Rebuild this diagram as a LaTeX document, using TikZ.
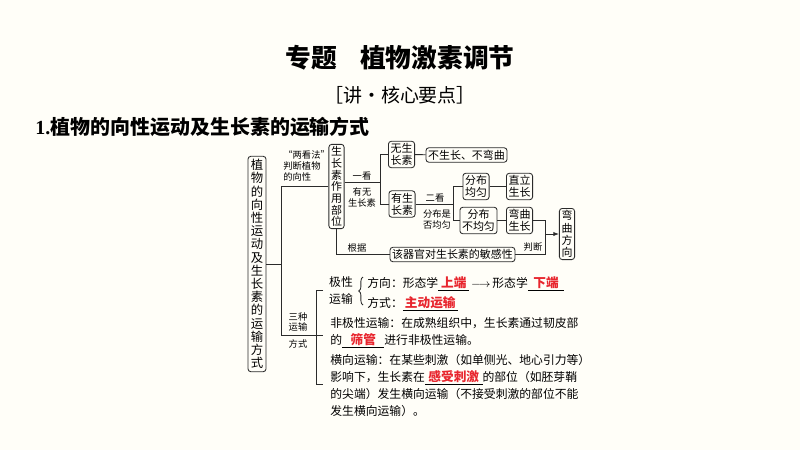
\documentclass[tikz,border=0pt]{standalone}
\usepackage{fontspec}
\setmainfont{Noto Sans CJK SC}
\newfontfamily\numfont{Liberation Serif}
\usetikzlibrary{arrows.meta,decorations.pathreplacing}
\definecolor{paper}{HTML}{FFFEF8}
\definecolor{keyred}{HTML}{E8262E}
\definecolor{ink}{HTML}{2B2B2B}
\newcommand{\fillin}[2]{\underline{\makebox[#1]{\textcolor{keyred}{\fontsize{9}{9}\selectfont\bfseries #2}}}}
\tikzset{
  box/.style={draw=ink, rounded corners=2pt, inner sep=1.5pt, align=center, font=\fontsize{7.8}{8.6}\selectfont},
  vbox/.style={box, font=\fontsize{7.8}{8.3}\selectfont},
  tag/.style={inner sep=0pt, align=center, font=\fontsize{6.6}{7.8}\selectfont},
  para/.style={inner sep=0pt, align=left, anchor=north west, font=\fontsize{8.4}{12.1}\selectfont},
}
\begin{document}
\begin{tikzpicture}[x=0.025cm, y=-0.025cm, line width=0.6pt, draw=ink, text=black]
  \fill[paper] (0,0) rectangle (800,450);
  \useasboundingbox (0,0) rectangle (800,450);
  \node[font=\fontsize{18.3}{18}\selectfont\bfseries] (title) at (400,58) {专题\hspace{0.9em}植物激素调节};
  \node[font=\fontsize{13.5}{14}\selectfont] (sub) at (400,95) {［讲・核心要点］};
  \node[anchor=west, inner sep=0pt, font=\fontsize{14.2}{14}\selectfont\bfseries] (head) at (35,127) {{\numfont 1.}植物的向性运动及生长素的运输方式};
  \node[vbox, inner sep=2pt, font=\fontsize{8.8}{9.4}\selectfont] (plant) at (257,264)
    {植\\物\\的\\向\\性\\运\\动\\及\\生\\长\\素\\的\\运\\输\\方\\式};
  \node[vbox] (site) at (336.5,186.5) {生\\长\\素\\作\\用\\部\\位};
  \node[box] (none) at (401.5,154.5) {无生\\长素};
  \node[box] (have) at (402,204) {有生\\长素};
  \node[box] (nogrow) at (466.5,155) {不生长、不弯曲};
  \node[box] (even) at (476,186.5) {分布\\均匀};
  \node[box] (uneven) at (478.5,220.5) {分布\\不均匀};
  \node[box] (upright) at (519.5,186.5) {直立\\生长};
  \node[box] (bend) at (519.5,220.5) {弯曲\\生长};
  \node[vbox, font=\fontsize{7.8}{8.7}\selectfont] (dir) at (567,234) {弯\\曲\\方\\向};
  \node[box] (sens) at (452.5,254.5) {该器官对生长素的敏感性};
  \node[tag, align=left, anchor=north west] (twolook) at (283,150) {“两看法”\\判断植物\\的向性};
  \node[tag] (look1) at (362,176) {一看};
  \node[tag] (hasno) at (362,197) {有无\\生长素};
  \node[tag] (look2) at (435,198) {二看};
  \node[tag] (evenq) at (437,219) {分布是\\否均匀};
  \node[tag] (basis) at (357,248) {根据};
  \node[tag] (judge) at (533,247) {判断};
  \node[tag] (three) at (298,322) {三种\\运输};
  \node[tag] (way) at (298,344) {方式};
  \node[para, anchor=center, align=center] (polar) at (341,290.5) {极性\\运输};
  \node[para] (dirline) at (367,276) {方向：形态学\fillin{22pt}{上端}\,$\longrightarrow$\,形态学\fillin{26pt}{下端}};
  \node[para] (modeline) at (367,296) {方式：\fillin{39pt}{主动运输}};
  \node[para] (nonpolar) at (330,317) {非极性运输：在成熟组织中，生长素通过韧皮部\\的\fillin{30pt}{筛管}进行非极性运输。};
  \node[para] (lateral) at (330,354) {横向运输：在某些刺激（如单侧光、地心引力等）\\影响下，生长素在\fillin{41pt}{感受刺激}的部位（如胚芽鞘\\的尖端）发生横向运输（不接受刺激的部位不能\\发生横向运输）。};
  \coordinate (j1) at (281,264);
  \coordinate (j2) at (380,182);
  \coordinate (j3) at (453,204);
  \coordinate (j4) at (545,234);
  \coordinate (bk1) at (316,290);
  \coordinate (bk3) at (316,384);
  \coordinate (b1) at (323,290);
  \coordinate (b2) at (323,335);
  \coordinate (b3) at (323,384);
  \coordinate (br1) at (363,305);
  \coordinate (br2) at (363,277);
  \begin{scope}
    \draw (plant.east) -- (j1);
    \draw (site.west) -| (j1);
    \draw (j1) |- (b2);
    \draw (b1) -- (bk1) -- (bk3) -- (b3);
    \draw (site.east |- j2) -- (j2);
    \draw (none.west) -| (j2);
    \draw (have.west) -| (j2);
    \draw (none) -- (nogrow);
    \draw (have.east) -- (j3);
    \draw (even.west) -| (j3);
    \draw (uneven.west) -| (j3);
    \draw (even) -- (upright);
    \draw (uneven) -- (bend);
    \draw (site.south) |- (sens.west);
    \draw (bend.east) -| (j4);
    \draw (sens.east) -| (j4);
    \draw[-{Latex[length=4pt,width=3pt]}] (j4) -- (dir.west);
    \draw[decorate, decoration={brace, amplitude=3pt}] (br1) -- (br2);
  \end{scope}
\end{tikzpicture}
\end{document}
